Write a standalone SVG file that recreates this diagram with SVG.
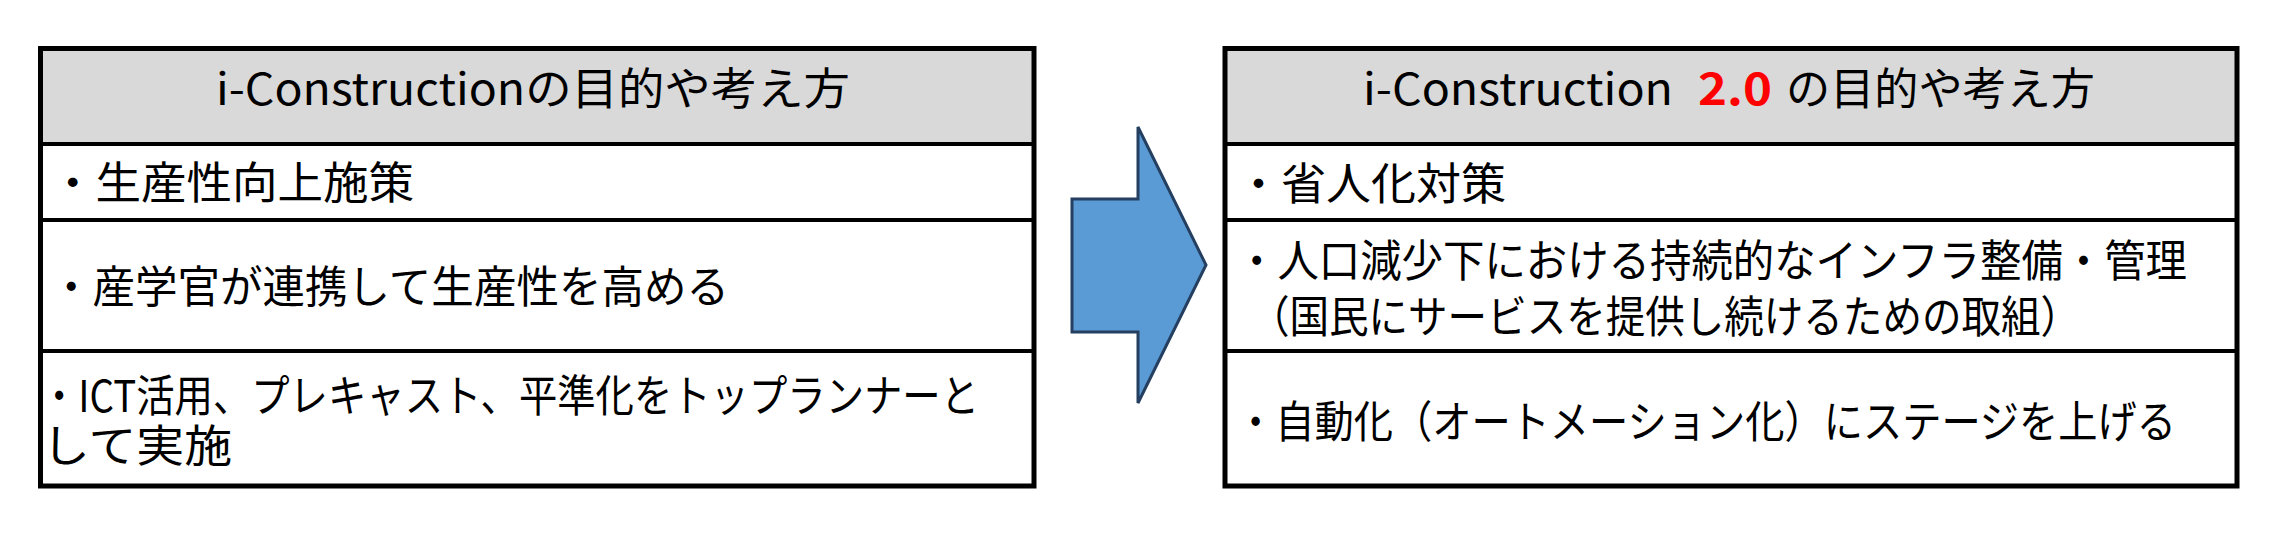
<svg xmlns="http://www.w3.org/2000/svg" width="2286" height="537" viewBox="0 0 2286 537">
  <style>
    .hdr { fill: #D9D9D9; }
    .cell { fill: #FFFFFF; }
    .frame { fill: none; stroke: #000000; stroke-width: 5; }
    .sep { stroke: #000000; stroke-width: 4; }
    .t { font-family: "Noto Sans CJK JP", "Noto Sans", sans-serif; font-size: 44px; fill: #000000; }
    .red { font-family: "Noto Sans CJK JP", "Noto Sans", sans-serif; font-size: 44px; fill: #FF0000; font-weight: bold; }
    .arrow { fill: #5B9BD5; stroke: #243F60; stroke-width: 3; stroke-linejoin: miter; }
  </style>
  <rect x="0" y="0" width="2286" height="537" fill="#FFFFFF"/>

  <g id="left-table">
    <g id="left-header">
      <rect class="hdr" x="40.5" y="48.5" width="993.5" height="95.5"/>
      <text class="t" x="216" y="105" textLength="634" lengthAdjust="spacingAndGlyphs">i-Constructionの目的や考え方</text>
    </g>
    <g id="left-row1">
      <rect class="cell" x="40.5" y="144" width="993.5" height="76"/>
      <text class="t" x="50" y="199" textLength="364" lengthAdjust="spacingAndGlyphs">・生産性向上施策</text>
    </g>
    <g id="left-row2">
      <rect class="cell" x="40.5" y="220" width="993.5" height="131"/>
      <text class="t" x="50" y="303" textLength="679" lengthAdjust="spacingAndGlyphs">・産学官が連携して生産性を高める</text>
    </g>
    <g id="left-row3">
      <rect class="cell" x="40.5" y="351" width="993.5" height="135"/>
      <text class="t"><tspan x="40" y="412" textLength="939" lengthAdjust="spacingAndGlyphs">・ICT活用、プレキャスト、平準化をトップランナーと</tspan><tspan x="42" y="462" textLength="190" lengthAdjust="spacingAndGlyphs">して実施</tspan></text>
    </g>
    <line class="sep" x1="40.5" y1="144" x2="1034" y2="144"/>
    <line class="sep" x1="40.5" y1="220" x2="1034" y2="220"/>
    <line class="sep" x1="40.5" y1="351" x2="1034" y2="351"/>
    <rect class="frame" x="40.5" y="48.5" width="993.5" height="437.5"/>
  </g>

  <g id="right-table">
    <g id="right-header">
      <rect class="hdr" x="1225" y="48.5" width="1012" height="95.5"/>
      <text class="t" x="1363" y="105" textLength="310" lengthAdjust="spacingAndGlyphs">i-Construction</text>
      <text class="red" x="1698" y="105" textLength="74" lengthAdjust="spacingAndGlyphs">2.0</text>
      <text class="t" x="1786" y="105" textLength="309" lengthAdjust="spacingAndGlyphs">の目的や考え方</text>
    </g>
    <g id="right-row1">
      <rect class="cell" x="1225" y="144" width="1012" height="76"/>
      <text class="t" x="1236" y="200" textLength="270" lengthAdjust="spacingAndGlyphs">・省人化対策</text>
    </g>
    <g id="right-row2">
      <rect class="cell" x="1225" y="220" width="1012" height="131"/>
      <text class="t"><tspan x="1236" y="277" textLength="951" lengthAdjust="spacingAndGlyphs">・人口減少下における持続的なインフラ整備・管理</tspan><tspan x="1250" y="333" textLength="830" lengthAdjust="spacingAndGlyphs">（国民にサービスを提供し続けるための取組）</tspan></text>
    </g>
    <g id="right-row3">
      <rect class="cell" x="1225" y="351" width="1012" height="135"/>
      <text class="t" x="1236" y="438" textLength="940" lengthAdjust="spacingAndGlyphs">・自動化（オートメーション化）にステージを上げる</text>
    </g>
    <line class="sep" x1="1225" y1="144" x2="2237" y2="144"/>
    <line class="sep" x1="1225" y1="220" x2="2237" y2="220"/>
    <line class="sep" x1="1225" y1="351" x2="2237" y2="351"/>
    <rect class="frame" x="1225" y="48.5" width="1012" height="437.5"/>
  </g>

  <g id="connectors">
    <polygon id="arrow" class="arrow" points="1072,199 1138,199 1138,127 1206,265 1138,403 1138,332 1072,332"/>
  </g>
</svg>
